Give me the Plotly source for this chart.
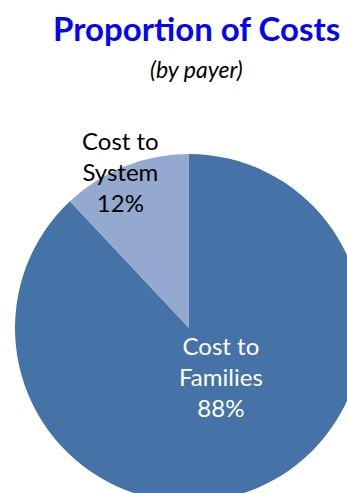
import plotly.graph_objects as go

labels = ["Cost to Families", "Cost to System"]
label_lines = [["Cost to", "Families"], ["Cost to", "System"]]
values = [88, 12]
colors = ["#4673A7", "#94A9D0"]
text_colors = ["white", "black"]

W, H = 380, 520
cx, cy, r = 189, 328, 174

fig = go.Figure()
fig.add_trace(go.Pie(
    labels=labels, values=values, sort=False, direction="clockwise", rotation=0,
    marker=dict(colors=colors, line=dict(width=0)),
    textinfo="none", hoverinfo="label+percent", showlegend=False,
    domain=dict(x=[(cx - r) / W, (cx + r) / W], y=[1 - (cy + r) / H, 1 - (cy - r) / H]),
))

label_pos = [(221, 376), (120, 172)]
for lines, v, tc, (px, py) in zip(label_lines, values, text_colors, label_pos):
    fig.add_annotation(
        text="<br>".join(lines + [f"{v}%"]), x=px / W, y=1 - py / H, xref="paper", yref="paper",
        xanchor="center", yanchor="middle", showarrow=False,
        font=dict(family="Lato", size=24, color=tc), align="center",
    )

fig.add_annotation(text="<b>Proportion of Costs</b>", x=197 / W, y=1 - 28 / H, xref="paper", yref="paper",
                   xanchor="center", yanchor="middle", showarrow=False,
                   font=dict(family="Lato", size=33, color="#0505F5"))
fig.add_annotation(text="<i>(by payer)</i>", x=196 / W, y=1 - 69 / H, xref="paper", yref="paper",
                   xanchor="center", yanchor="middle", showarrow=False,
                   font=dict(family="Lato", size=23, color="black"))

fig.update_layout(width=W, height=H, margin=dict(l=0, r=0, t=0, b=0),
                  paper_bgcolor="white", plot_bgcolor="white")

fig.write_html("out.html", post_script="document.body.style.margin='0';document.body.style.overflow='hidden';document.documentElement.style.overflow='hidden';")
